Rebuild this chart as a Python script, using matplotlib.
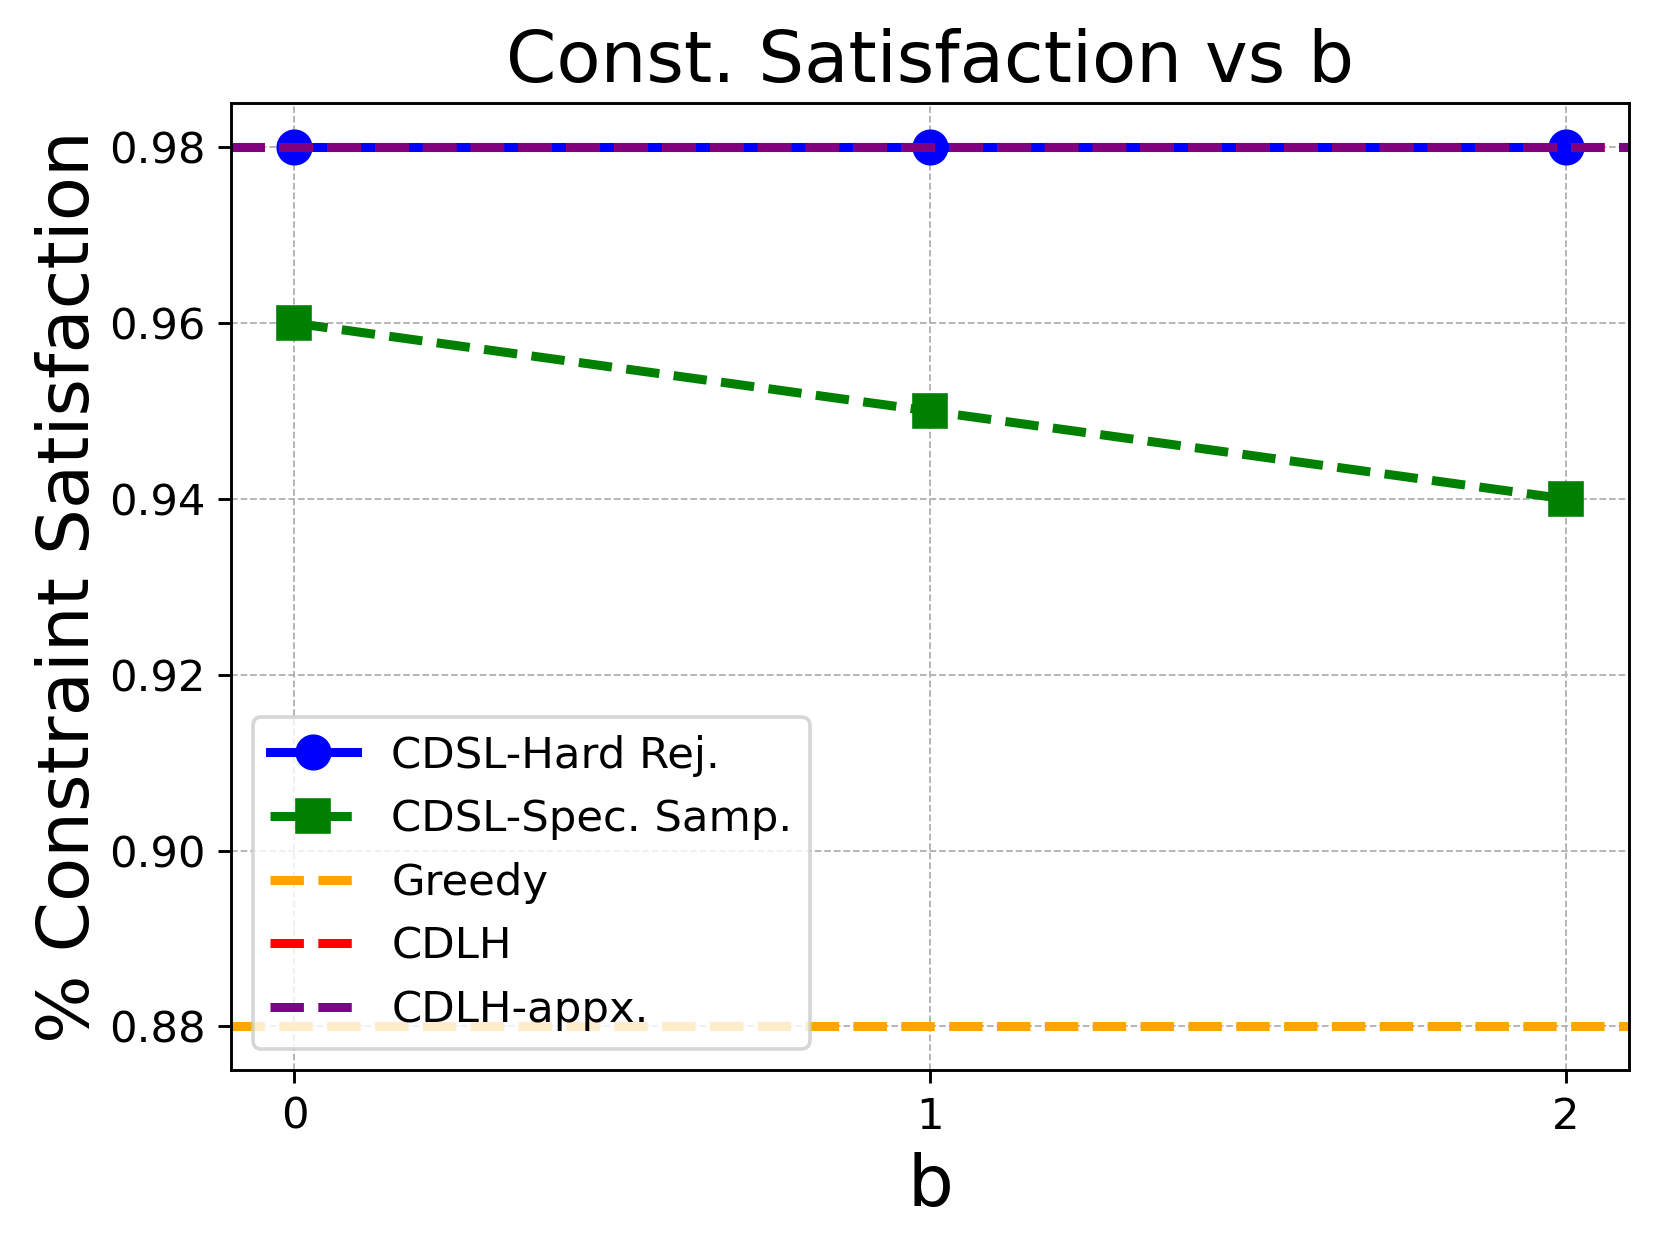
import numpy as np
from matplotlib import pyplot as plt

b_values = [0, 1, 2]
hard_rej = [0.98, 0.98, 0.98]
spec_samp = [0.96, 0.95, 0.94]
greedy = 0.88
cdlh = 0.98
cdlh_appx = 0.98

fig, ax = plt.subplots(figsize=(1661/260, 1246/260), dpi=260)
fig.subplots_adjust(left=0.139, right=0.981, top=0.917, bottom=0.141)

ax.plot(b_values, hard_rej, color="blue", marker="o", linewidth=2.5, markersize=9, label="CDSL-Hard Rej.")
ax.plot(b_values, spec_samp, color="green", marker="s", linestyle="--", linewidth=2.5, markersize=9, label="CDSL-Spec. Samp.")
ax.axhline(greedy, color="orange", linestyle="--", linewidth=2.5, label="Greedy")
ax.axhline(cdlh, color="red", linestyle="--", linewidth=2.5, label="CDLH")
ax.axhline(cdlh_appx, color="purple", linestyle="--", linewidth=2.5, label="CDLH-appx.")

ax.set_xticks(b_values)
ax.tick_params(labelsize=12)
ax.set_title("Const. Satisfaction vs b", fontsize=20)
ax.set_xlabel("b", fontsize=20)
ax.set_ylabel("% Constraint Satisfaction", fontsize=20, labelpad=1.5)
ax.grid(True, linestyle="--", linewidth=0.5, color="#b0b0b0")
ax.legend(loc="lower left", fontsize=12)

plt.savefig("out.png")
